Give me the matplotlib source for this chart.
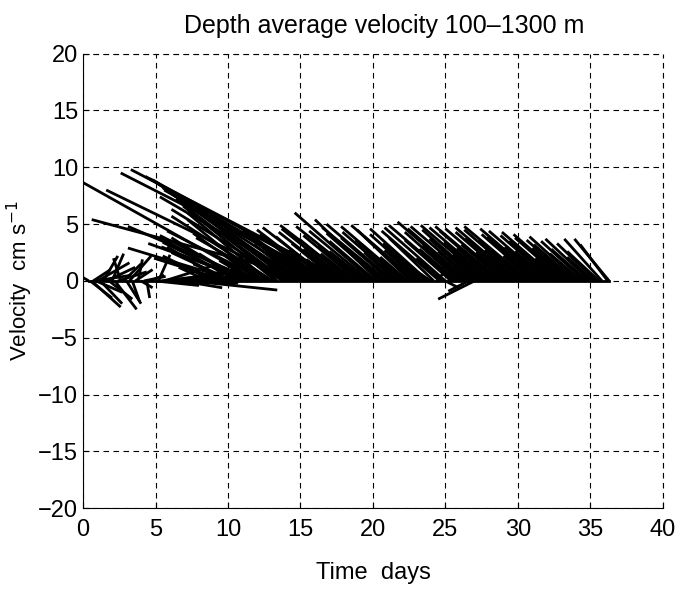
import numpy as np
import matplotlib
matplotlib.use("Agg")
import matplotlib.pyplot as plt

plt.rcParams["font.family"] = ["Liberation Sans", "DejaVu Sans"]

# stick plot: each stick runs from (t, 0) to (t + u, v); u, v in cm/s
# early days: small sticks in all directions
t_early = [0.4, 0.5, 0.6, 0.7, 0.8, 0.9, 1.0, 1.2, 1.4, 1.6, 1.8, 2.0, 2.2,
           2.4, 2.6, 2.8, 3.0, 3.2, 3.4, 3.6, 3.8, 4.0, 4.2, 4.4, 4.6, 5.2]
u_early = [-0.4, 1.5, 2.0, 1.2, 2.5, 1.8, 2.2, 1.5, 1.0, 2.0, 1.6, 0.8, 1.5,
           2.0, -0.5, 1.2, 1.0, 1.5, 0.5, 1.2, 0.3, 0.8, 1.5, 0.2, 1.0, 0.8]
v_early = [0.3, -1.5, -2.3, 1.0, 0.5, -1.0, 1.6, -2.0, 2.2, 1.2, -1.6, 2.4, -2.5,
           0.8, 2.0, 1.5, -2.0, 2.2, -1.8, 1.0, 1.9, -0.6, 0.4, -1.5, 0.5, 2.3]

# days 5-8: sticks pointing to the right
t_right = [5.0, 5.3, 5.6, 5.9, 6.2, 6.5, 6.8, 7.1, 7.4, 7.7, 8.0, 8.3]
u_right = [3.0, 4.2, 3.5, 4.8, 3.8, 5.2, 2.8, 4.0, 6.0, 3.2, 2.5, 2.0]
v_right = [-0.4, 0.6, 1.4, -0.2, 0.9, 0.3, -0.6, 1.2, -0.8, 0.5, -0.3, 0.9]

# long sticks reaching far back to the left
t_long = [18.1, 17.2, 12.1, 16.3, 14.5, 16.8, 16.2, 15.6, 15.0, 14.4, 13.8,
          13.3, 12.8, 12.4, 11.9, 11.5, 11.0, 10.6, 10.3, 9.9, 9.6,
          17.6, 16.6, 15.3, 14.1, 13.1, 12.6, 11.7, 10.9]
u_long = [-14.8, -14.6, -12.3, -15.7, -12.9, -12.5, -11.4, -10.5, -9.5, -8.4,
          -7.4, -6.4, -5.6, -5.2, -8.8, -6.2, -5.5, -7.5, -4.2, -5.0, -3.5,
          -13.0, -11.0, -10.0, -8.0, -7.0, -6.8, -7.2, -4.8]
v_long = [9.8, 9.5, 8.8, 5.4, 8.0, 9.2, 8.9, 8.6, 8.2, 7.8, 7.2, 6.6, 6.0,
          5.4, 4.8, 4.0, 3.4, 2.9, 2.5, 2.0, 1.6,
          9.0, 8.0, 7.4, 6.3, 5.7, 4.4, 3.3, 3.8]

# days 8.6-13.8
t_mid = [8.6, 9.0, 9.4, 9.8, 10.2, 10.6, 11.0, 11.4, 11.8, 12.2, 12.6, 13.0,
         13.4, 13.8]
u_mid = [-2.0, -3.5, -1.5, -4.0, -2.6, -5.0, -3.0, -6.0, -2.4, -4.6, -3.2,
         -5.2, -3.8, -2.6]
v_mid = [1.2, 2.2, 0.8, 3.0, 1.5, 3.6, 2.4, 3.0, 1.8, 4.2, 2.6, 3.8, 4.4, 2.0]

# days 14-36: dense sticks pointing up-left
t_late = [14.0, 14.2, 14.4, 14.6, 14.8, 15.0, 15.2, 15.4, 15.6, 15.8,
          16.0, 16.2, 16.4, 16.6, 16.8, 17.0, 17.2, 17.4, 17.6, 17.8,
          18.0, 18.2, 18.4, 18.6, 18.8, 19.0, 19.2, 19.4, 19.6, 19.8,
          20.0, 20.2, 20.4, 20.6, 20.8, 21.0, 21.2, 21.4, 21.6, 21.8,
          22.0, 22.2, 22.4, 22.6, 22.8, 23.0, 23.2, 23.4, 23.6, 23.8,
          24.0, 24.2, 24.4, 24.6, 24.8, 25.0, 25.2, 25.4, 25.6, 25.8,
          26.0, 26.2, 26.4, 26.6, 26.8, 27.0, 27.2, 27.4, 27.6, 27.8,
          28.0, 28.2, 28.4, 28.6, 28.8, 29.0, 29.2, 29.4, 29.6, 29.8,
          30.0, 30.2, 30.4, 30.6, 30.8, 31.0, 31.2, 31.4, 31.6, 31.8,
          32.0, 32.2, 32.4, 32.6, 32.8, 33.0, 33.2, 33.4, 33.6, 33.8,
          34.0, 34.2, 34.4, 34.6, 34.8, 35.0, 35.2, 35.4, 35.6, 35.8,
          36.2, 36.3, 27.0, 26.6, 25.0]
u_late = [-4.4, -2.4, -3.8, -4.8, -1.8, -3.2, -4.2, -2.9, -3.6, -5.0,
          -2.2, -4.0, -3.4, -4.6, -2.6, -3.7, -4.8, -2.0, -3.2, -4.3,
          -2.8, -4.5, -3.5, -5.0, -2.4, -3.8, -3.0, -4.7, -2.6, -4.2,
          -5.4, -3.2, -4.4, -3.8, -2.7, -4.5, -3.4, -4.6, -2.2, -3.9,
          -3.2, -4.4, -1.9, -3.7, -3.4, -4.5, -2.4, -3.6, -2.9, -4.0,
          -1.4, -3.1, 0.6, -4.0, -1.8, -4.2, 0.8, -3.2, -4.5, -2.6,
          -3.8, -2.8, -4.7, -4.2, -2.3, -4.4, -3.3, -4.0, -2.1, -4.5,
          -3.1, -4.3, -2.6, -4.0, -4.5, -2.9, -4.2, -2.3, -3.9, -3.4,
          -4.3, -2.5, -4.1, -3.3, -4.5, -2.0, -3.7, -3.5, -4.2, -2.7,
          -4.0, -2.4, -3.6, -3.2, -3.9, -1.8, -3.4, -3.7, -2.6, -3.2,
          -2.9, -3.4, -2.2, -3.0, -2.5, -3.1, -1.8, -2.7, -2.2, -2.6,
          -1.9, -2.4, -2.5, -1.4, 0.9]
v_late = [4.2, 2.5, 3.8, 4.6, 1.8, 3.2, 4.4, 2.9, 3.6, 4.8,
          2.2, 4.1, 3.4, 4.5, 2.7, 3.9, 4.7, 1.9, 3.3, 4.3,
          2.8, 4.6, 3.7, 4.9, 2.4, 4.0, 3.1, 4.8, 2.6, 4.4,
          6.0, 3.5, 5.4, 4.2, 2.9, 4.7, 3.8, 5.0, 2.5, 4.3,
          3.6, 4.8, 2.1, 4.5, 3.9, 4.9, 2.7, 4.1, 3.3, 4.6,
          1.2, 3.8, 0.9, 4.4, 2.0, 4.7, 1.5, 3.6, 4.9, 2.8,
          4.3, 3.1, 5.2, 4.6, 2.6, 4.8, 3.7, 4.5, 2.3, 4.9,
          3.4, 4.7, 2.9, 4.4, 4.8, 3.2, 4.6, 2.5, 4.3, 3.8,
          4.7, 2.7, 4.5, 3.6, 4.8, 2.2, 4.1, 3.9, 4.6, 3.0,
          4.4, 2.6, 4.0, 3.5, 4.3, 2.0, 3.8, 4.1, 2.9, 3.6,
          3.2, 3.9, 2.4, 3.5, 2.8, 3.7, 2.1, 3.3, 2.6, 3.7,
          3.2, 3.7, -1.6, -0.9, -0.6]

t_all = np.array(t_early + t_right + t_long + t_mid + t_late)
u_all = np.array(u_early + u_right + u_long + u_mid + u_late)
v_all = np.array(v_early + v_right + v_long + v_mid + v_late)

fig = plt.figure(figsize=(6.75, 5.89), dpi=100)
ax = fig.add_axes([0.123, 0.137, 0.859, 0.772])

for t, u, v in zip(t_all, u_all, v_all):
    ax.plot([t, t + u], [0, v], color="black", lw=2.0, solid_capstyle="butt")
ax.plot([t_all.min(), t_all.max()], [0, 0], color="black", lw=2.0)

ax.set_xlim(0, 40)
ax.set_ylim(-20, 20)
ax.set_xticks(range(0, 41, 5))
ax.set_yticks(range(-20, 21, 5))
ax.grid(True, color="black", linestyle=(0, (5, 4)), linewidth=0.8)
ax.set_axisbelow(False)
ax.spines["top"].set_visible(False)
ax.spines["right"].set_visible(False)
ax.plot([0, 40], [20, 20], color="black", linestyle=(0, (5, 4)), lw=0.8, clip_on=False)
ax.plot([40, 40], [-20, 20], color="black", linestyle=(0, (5, 4)), lw=0.8, clip_on=False)
ax.tick_params(direction="in", labelsize=17, length=4)
ax.tick_params(axis="x", pad=8)

ax.set_title("Depth average velocity 100\u20131300 m", fontsize=18, pad=15, x=0.52)
ax.set_xlabel("Time  days", fontsize=17, labelpad=15)
ax.set_ylabel("Velocity  cm s$^{-1}$", fontsize=16)
ax.yaxis.set_label_coords(-0.082, 0.5)

fig.savefig("out.png", dpi=100)
